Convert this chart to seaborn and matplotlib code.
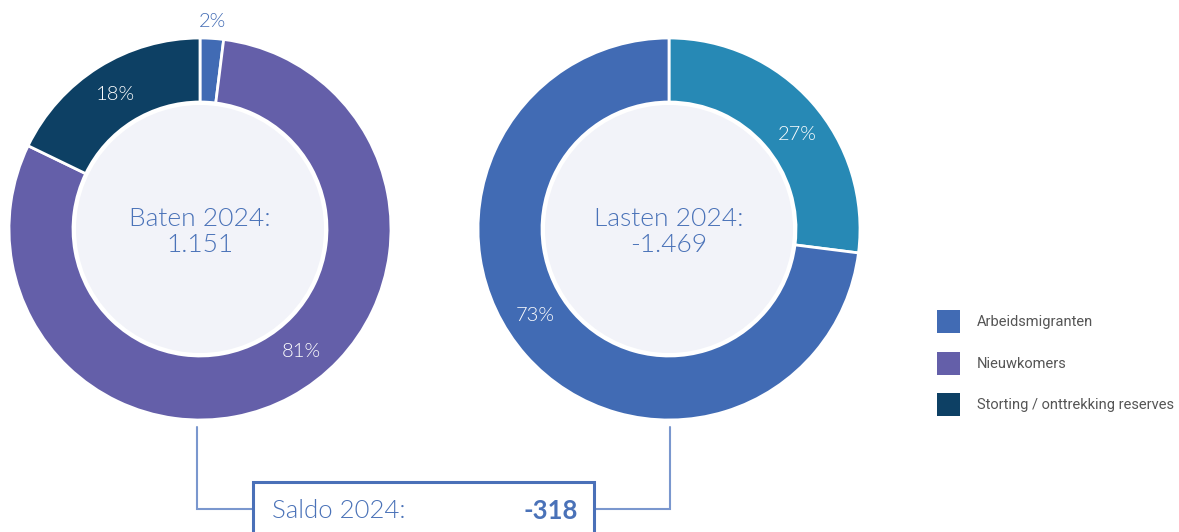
import numpy as np
import matplotlib
matplotlib.use("Agg")
import matplotlib.pyplot as plt
from matplotlib.patches import Circle, Rectangle
import seaborn as sns

sns.set_theme(style="white")
plt.rcParams['font.family'] = ['Lato', 'DejaVu Sans']

# ---- data ----
legend_labels = ["Arbeidsmigranten", "Nieuwkomers", "Storting / onttrekking reserves"]
baten_values = [2, 81, 18]
baten_labels = ["2%", "81%", "18%"]
lasten_values = [27, 73]
lasten_labels = ["27%", "73%"]
baten_title = "Baten 2024:\n1.151"
lasten_title = "Lasten 2024:\n-1.469"
saldo_label = "Saldo 2024:"
saldo_value = "-318"

BLUE = "#416BB4"
PURPLE = "#645FA9"
NAVY = "#0D4064"
TEAL = "#2789B5"
TXT = "#4A72B8"
FILL = "#F2F3F9"
LINE = "#7A97CE"

palette = sns.color_palette([BLUE, PURPLE, NAVY])
baten_colors = list(palette)
lasten_colors = [TEAL, BLUE]

W, H = 1179, 532
fig = plt.figure(figsize=(W / 100, H / 100), dpi=100)
ax = fig.add_axes([0, 0, 1, 1])

R = 191
RING = 64
INNER = 124
WT = 300


def Y(y):
    return H - y


def donut(cx, cy, values, colors, labels, title, shifts):
    wedges, _ = ax.pie(values, colors=colors, startangle=90, counterclock=False,
                       radius=R, center=(cx, Y(cy)), frame=True,
                       wedgeprops=dict(width=RING, edgecolor="white", linewidth=2))
    ax.add_patch(Circle((cx, Y(cy)), INNER, facecolor=FILL, edgecolor="none", zorder=3))
    total = sum(values)
    for w, lab, v, s in zip(wedges, labels, values, shifts):
        ang = np.deg2rad((w.theta1 + w.theta2) / 2 + s)
        if v / total < 0.05:
            r = R + 17
            col = BLUE
        else:
            r = R - RING / 2
            col = "white"
        ax.text(cx + r * np.cos(ang), Y(cy) + r * np.sin(ang), lab,
                ha="center", va="center", fontsize=14.5, color=col, zorder=4,
                fontweight=WT)
    ax.text(cx, Y(cy + 3), title, ha="center", va="center", fontsize=19,
            color=TXT, linespacing=1.12, zorder=4, fontweight=WT)


donut(200, 229, baten_values, baten_colors, baten_labels, baten_title, [0, 11, 0])
donut(669, 229, lasten_values, lasten_colors, lasten_labels, lasten_title, [-5, -8.5])

# connectors
ax.plot([197, 197, 253], [Y(427), Y(509), Y(509)], color=LINE, lw=1.5, solid_joinstyle="miter")
ax.plot([670, 670, 594], [Y(427), Y(509), Y(509)], color=LINE, lw=1.5, solid_joinstyle="miter")

# saldo box
ax.add_patch(Rectangle((253, Y(560)), 594 - 253, 560 - 482, facecolor="white",
                       edgecolor="#4A70B8", lw=2.2, zorder=5))
ax.text(272, Y(511), saldo_label, ha="left", va="center", fontsize=18.5, color=TXT,
        zorder=6, fontweight=WT)
ax.text(578, Y(511), saldo_value, ha="right", va="center", fontsize=18.5, color=TXT,
        fontweight="bold", zorder=6)

# legend
for i, (lab, col) in enumerate(zip(legend_labels, palette)):
    top = 310 + i * 41.5
    ax.add_patch(Rectangle((937, Y(top + 23)), 23, 23, facecolor=col, edgecolor="none"))
    ax.text(977, Y(top + 12), lab, ha="left", va="center", fontsize=10.5,
            color="#555555", family=["Roboto", "DejaVu Sans"])

ax.set_xlim(0, W)
ax.set_ylim(0, H)
ax.set_aspect("equal")
ax.axis("off")

fig.savefig("out.png", dpi=100)
